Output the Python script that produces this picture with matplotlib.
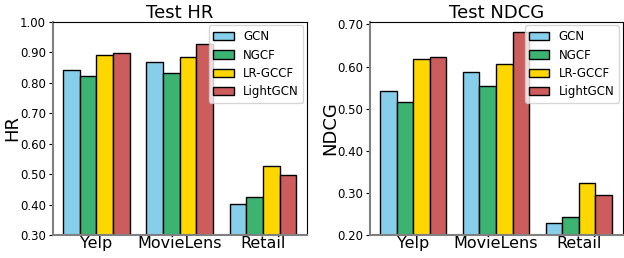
import matplotlib.pyplot as plt
import numpy as np

datasets = ["Yelp", "MovieLens", "Retail"]
models = ["GCN", "NGCF", "LR-GCCF", "LightGCN"]
colors = ["skyblue", "mediumseagreen", "gold", "indianred"]

hr_gcn = [0.843, 0.867, 0.403]
hr_ngcf = [0.824, 0.832, 0.425]
hr_lrgccf = [0.893, 0.886, 0.527]
hr_lightgcn = [0.897, 0.926, 0.496]

ndcg_gcn = [0.542, 0.586, 0.228]
ndcg_ngcf = [0.515, 0.554, 0.243]
ndcg_lrgccf = [0.618, 0.607, 0.323]
ndcg_lightgcn = [0.622, 0.683, 0.295]

hr = [hr_gcn, hr_ngcf, hr_lrgccf, hr_lightgcn]
ndcg = [ndcg_gcn, ndcg_ngcf, ndcg_lrgccf, ndcg_lightgcn]

fig = plt.figure(figsize=(6.24, 2.58), dpi=100)
ax1 = fig.add_axes([0.085, 0.089, 0.407, 0.826])
ax2 = fig.add_axes([0.593, 0.089, 0.405, 0.826])

x = np.arange(len(datasets))
w = 0.2


def draw(ax, vals, title, ylabel, ylim, ticks, labx):
    for i in range(4):
        ax.bar(x + (i - 1.5) * w, vals[i], w, color=colors[i],
               edgecolor="black", linewidth=1, label=models[i])
    ax.set_xlim(-0.52, 2.53)
    ax.set_ylim(ylim)
    ax.set_yticks(ticks)
    ax.set_yticklabels(["%.2f" % t for t in ticks], fontsize=8.5)
    ax.set_xticks(x)
    ax.set_xticklabels(datasets, fontsize=11.5)
    ax.tick_params(axis="x", length=0, pad=1)
    ax.tick_params(axis="y", length=3, pad=2)
    ax.set_title(title, fontsize=13, pad=3)
    ax.set_ylabel(ylabel, fontsize=13)
    ax.yaxis.set_label_coords(labx, 0.5)
    for s in ["left", "bottom"]:
        ax.spines[s].set_color("gray")
        ax.spines[s].set_linewidth(1.5)
    ax.legend(loc="upper right", fontsize=8.5, handlelength=1.7,
              borderaxespad=0.3, labelspacing=0.45, handletextpad=0.8)


draw(ax1, hr, "Test HR", "HR", (0.30, 1.00), np.arange(0.30, 1.001, 0.10), -0.125)
draw(ax2, ndcg, "Test NDCG", "NDCG", (0.20, 0.706), np.arange(0.20, 0.701, 0.10), -0.12)

fig.savefig("out.png", dpi=100)
